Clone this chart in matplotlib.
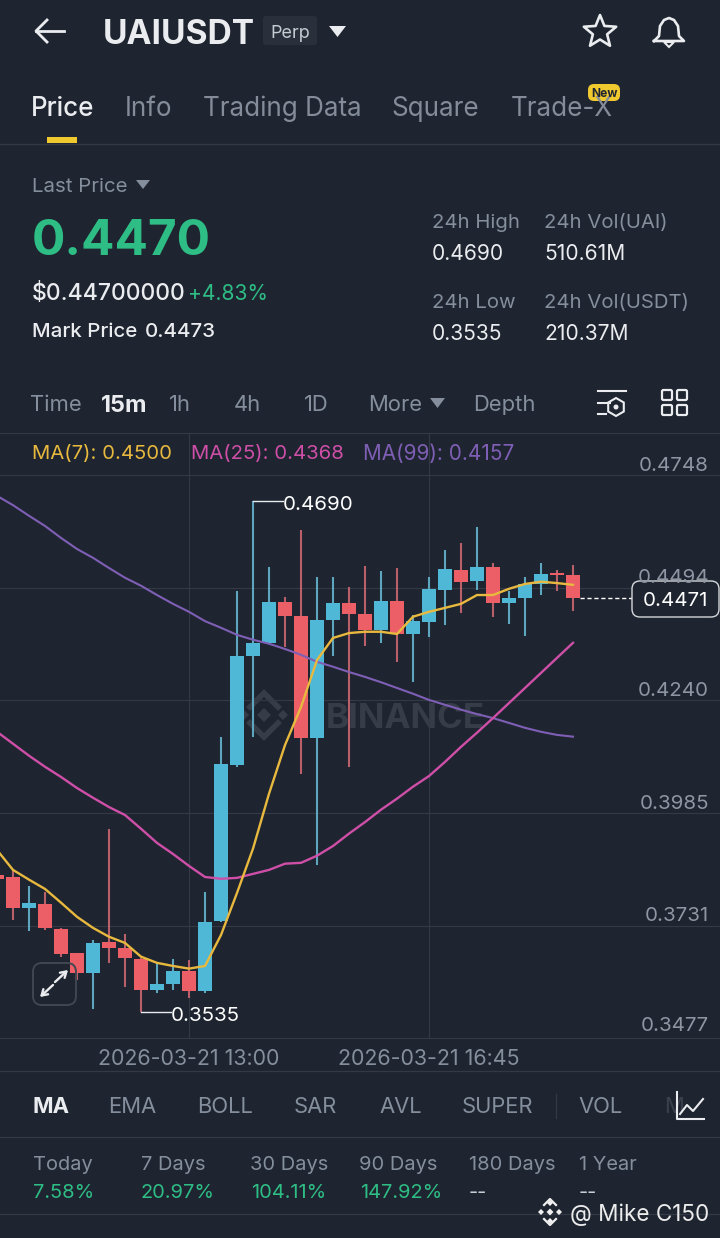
import matplotlib
matplotlib.use("Agg")
import matplotlib.pyplot as plt
from matplotlib.patches import FancyBboxPatch, Polygon, Rectangle, Circle, RegularPolygon
import numpy as np

plt.rcParams['font.family'] = ['Inter', 'DejaVu Sans']

BG = '#1e2530'; GRID = '#343a45'; GREY = '#848e9c'; WHITE = '#eaecef'; GREEN = '#2ebd85'
UP = '#4fb8d6'; DOWN = '#ec5f66'; UPW = '#5da6bd'; DOWNW = '#b9606a'
C7 = '#e8b93e'; C25 = '#cf4fa8'; C99 = '#7f5fb5'; MARK = '#373d48'

opens = [.3846,.3840,.3771,.3781,.3724,.3670,.3625,.3695,.3680,.3656,.3585,.3599,.3629,.3583,.3742,.4094,.4340,.4369,
         .4463,.4431,.4156,.4422,.4460,.4435,.4398,.4464,.4391,.4418,.4490,.4535,.4509,.4542,.4461,.4472,.4504,.4527,.4523]
closes = [.3837,.3772,.3783,.3726,.3668,.3625,.3692,.3680,.3658,.3586,.3600,.3629,.3584,.3740,.4096,.4340,.4370,.4463,
          .4431,.4156,.4422,.4460,.4434,.4398,.4464,.4390,.4419,.4491,.4536,.4508,.4541,.4460,.4471,.4504,.4526,.4523,.4471]
highs = [.3846,.3857,.3821,.3808,.3726,.3670,.3698,.3950,.3713,.3658,.3650,.3656,.3654,.3808,.4158,.4487,.4690,.4541,
         .4473,.4625,.4518,.4519,.4495,.4543,.4532,.4538,.4433,.4518,.4580,.4596,.4632,.4550,.4486,.4518,.4550,.4535,.4546]
lows = [.3837,.3744,.3720,.3722,.3661,.3609,.3543,.3647,.3593,.3535,.3580,.3585,.3568,.3580,.3740,.4089,.4158,.4369,
        .4361,.4073,.3869,.4340,.4090,.4363,.4370,.4326,.4281,.4383,.4411,.4437,.4489,.4429,.4413,.4386,.4477,.4487,.4443]
ma7 = [.3902,.3857,.3835,.3814,.3783,.3751,.3726,.3706,.3692,.3661,.3647,.3640,.3634,.3640,.3710,.3805,.3905,.4029,
       .4139,.4225,.4331,.4381,.4392,.4395,.4395,.4390,.4429,.4440,.4449,.4458,.4478,.4478,.4492,.4503,.4508,.4505,.4501]
ma25 = [.4169,.4142,.4115,.4090,.4067,.4042,.4020,.3999,.3981,.3950,.3918,.3893,.3866,.3841,.3837,.3839,.3848,.3857,
        .3871,.3873,.3889,.3911,.3939,.3965,.3993,.4018,.4045,.4069,.4101,.4135,.4167,.4200,.4234,.4268,.4302,.4336,.4370]
ma99 = [.4702,.4681,.4657,.4634,.4607,.4582,.4562,.4539,.4517,.4499,.4478,.4458,.4440,.4419,.4404,.4388,.4377,.4368,
        .4356,.4343,.4327,.4316,.4304,.4293,.4281,.4268,.4255,.4241,.4230,.4219,.4209,.4200,.4189,.4178,.4169,.4162,.4158]
price_ticks = [.4748, .4494, .4240, .3985, .3731, .3477]
time_ticks = [12, 27]
time_labels = ['2026-03-21 13:00', '2026-03-21 16:45']
last_price = .4471
tabs = [('Price', 31), ('Info', 125), ('Trading Data', 203), ('Square', 391), ('Trade-X', 511)]
ranges = [('Time', 30), ('15m', 101), ('1h', 169), ('4h', 234), ('1D', 304), ('More', 368), ('Depth', 473)]
indicators = [('MA', 32), ('EMA', 108), ('BOLL', 197), ('SAR', 294), ('AVL', 379), ('SUPER', 462), ('VOL', 578)]
periods = [('Today', 33), ('7 Days', 141), ('30 Days', 250), ('90 Days', 359), ('180 Days', 469), ('1 Year', 579)]
returns = ['7.58%', '20.97%', '104.11%', '147.92%', '--', '--']

W, H = 720, 1238
fig = plt.figure(figsize=(7.2, 12.38), dpi=100, facecolor=BG)
ui = fig.add_axes([0, 0, 1, 1], zorder=1); ui.set_xlim(0, W); ui.set_ylim(H, 0); ui.axis('off')
top, bot = 433, 1039
ax = fig.add_axes([0, 1 - bot / H, 1, (bot - top) / H], zorder=2, facecolor='none')
ov = fig.add_axes([0, 0, 1, 1], zorder=3, facecolor='none'); ov.set_xlim(0, W); ov.set_ylim(H, 0); ov.axis('off')
ymin, ymax = .3475, .4844

def px(s): return s * 0.72
def t(x, y, s, size, color=GREY, weight='normal', ha='left', a=ov, **kw):
    return a.text(x, y, s, fontsize=px(size), color=color, fontweight=weight, ha=ha, va='center_baseline', **kw)

# --- chart
n = len(opens); xs = np.arange(n) - 1
ax.set_xlim(-13 / 16, 707 / 16); ax.set_ylim(ymin, ymax)
for s in ax.spines.values(): s.set_visible(False)
ax.set_yticks(price_ticks); ax.set_yticklabels([])
ax.set_xticks([k - 1 for k in time_ticks]); ax.set_xticklabels(time_labels, fontsize=px(21.4), color=GREY)
ax.tick_params(length=0, pad=7)
ax.grid(True, color=GRID, lw=0.8); ax.set_axisbelow(True)
for i in range(n):
    up = closes[i] >= opens[i]
    ax.vlines(xs[i], lows[i], highs[i], color=UPW if up else DOWNW, lw=1.5, zorder=2)
    ax.bar(xs[i], abs(closes[i] - opens[i]), bottom=min(opens[i], closes[i]), width=.875, color=UP if up else DOWN, zorder=3)
ax.plot(xs, ma99, color=C99, lw=1.5, zorder=5)
ax.plot(xs, ma25, color=C25, lw=1.7, zorder=5)
ax.plot(xs, ma7, color=C7, lw=1.7, zorder=6)
ihi = int(np.argmax(highs)); ilo = int(np.argmin(lows))
for idx, val in [(ihi, highs[ihi]), (ilo, lows[ilo])]:
    ax.plot([xs[idx], xs[idx] + 1.85], [val] * 2, color=WHITE, lw=1, zorder=6)
    ax.annotate(f'{val:.4f}', xy=(xs[idx] + 1.85, val), xytext=(0, -1), textcoords='offset points',
                color='white', fontsize=px(20.5), va='center_baseline', zorder=7)
ax.plot([xs[-1] + .45, 38.7], [last_price] * 2, color='white', lw=1, dashes=(3, 2), zorder=6)

# --- price labels
y_of = lambda p: top + (ymax - p) / (ymax - ymin) * (bot - top)
for p in price_ticks:
    t(709, min(y_of(p) - 11.5, 1024), f'{p:.4f}', 20.5, ha='right', color='#8f96a3')
ov.add_patch(FancyBboxPatch((635, 584), 81, 30, boxstyle='round,pad=3,rounding_size=8', fc=BG, ec='#d5d8dc', lw=1))
t(675, 599, f'{last_price:.4f}', 20.5, 'white', ha='center')

# watermark
t(326, 715, 'BINANCE', 35, MARK, 'bold', a=ui)
ui.add_patch(RegularPolygon((264, 715), 4, radius=7, orientation=0, fc=MARK, ec='none'))
ui.add_patch(RegularPolygon((244, 715), 4, radius=5, orientation=0, fc=MARK, ec='none'))
ui.add_patch(RegularPolygon((283, 715), 4, radius=5, orientation=0, fc=MARK, ec='none'))
ui.plot([250, 264, 278], [707, 693, 707], color=MARK, lw=4, solid_joinstyle='miter')
ui.plot([250, 264, 278], [723, 737, 723], color=MARK, lw=4, solid_joinstyle='miter')

# --- header
ov.plot([36, 64], [31, 31], color=WHITE, lw=2)
ov.plot([47, 36, 47], [20, 31, 42], color=WHITE, lw=2)
t(103, 31, 'UAIUSDT', 33.5, WHITE, 'bold')
ui.add_patch(FancyBboxPatch((265, 18), 50, 25, boxstyle='round,pad=2,rounding_size=3', fc='#2a303b', ec='none'))
t(290, 31, 'Perp', 18, '#c7ccd3', ha='center')
ov.add_patch(Polygon([[329, 26], [346, 26], [337.5, 37]], fc=WHITE))
ang = np.deg2rad(np.arange(0, 360, 36) - 90); rad = np.where(np.arange(10) % 2 == 0, 17, 7.5)
ov.add_patch(Polygon(np.c_[600 + rad * np.cos(ang), 32 + rad * np.sin(ang)], fc='none', ec=WHITE, lw=1.9, joinstyle='round'))
bx = np.array([654, 659, 660, 664, 669, 674, 678, 679, 684, 654]); by = np.array([41, 36, 26, 20, 18, 20, 26, 36, 41, 41])
ov.plot(bx, by, color=WHITE, lw=1.9, solid_joinstyle='round')
ov.add_patch(Polygon([[664, 42], [674, 42], [669, 47]], fc='none', ec=WHITE, lw=1.5))

# --- tabs
for i, (s, x) in enumerate(tabs):
    t(x, 106, s, 26, WHITE if i == 0 else '#848c99', 'medium' if i == 0 else 'normal')
ui.add_patch(Rectangle((47, 137), 30, 6, fc='#f0c92f'))
ui.plot([0, W], [143.5, 143.5], color=GRID, lw=1)
ov.add_patch(FancyBboxPatch((592, 88), 24, 9, boxstyle='round,pad=4,rounding_size=6', fc='#f0c92f', ec='none'))
t(604, 92.5, 'New', 12, BG, 'bold', ha='center')

# --- quote block
t(32, 185, 'Last Price', 20.5)
ov.add_patch(Polygon([[136, 180], [150, 180], [143, 189]], fc=GREY))
t(32, 237, '0.4470', 49.5, GREEN, 'bold')
t(32, 292, '$0.44700000', 23, WHITE, 'medium')
t(188, 292, '+4.83%', 21, GREEN)
t(32, 330, 'Mark Price', 20.5, WHITE, 'medium')
t(145, 330, '0.4473', 20.5, WHITE, 'medium')
for x, s1, s2, y in [(432, '24h High', '0.4690', 221), (544, '24h Vol(UAI)', '510.61M', 221),
                     (432, '24h Low', '0.3535', 301), (544, '24h Vol(USDT)', '210.37M', 301)]:
    t(x, y, s1, 20.3); t(x, y + 31, s2, 21, WHITE)

# --- ranges
for s, x in ranges:
    t(x, 403, s, 23.5 if s == '15m' else 22, WHITE if s == '15m' else GREY, 'bold' if s == '15m' else 'normal')
ov.add_patch(Polygon([[430, 398], [445, 398], [437.5, 408]], fc=GREY))
ov.plot([598, 626], [391, 391], color=WHITE, lw=1.5)
ov.plot([598, 610], [403, 403], color=WHITE, lw=1.5); ov.plot([598, 606], [414, 414], color=WHITE, lw=1.5)
ov.add_patch(RegularPolygon((616, 407), 6, radius=9, fc='none', ec=WHITE, lw=1.5))
ov.add_patch(Circle((616, 407), 2.5, fc=WHITE, ec='none'))
for (rx, ry) in [(662, 390), (677, 390), (662, 405), (677, 405)]:
    ov.add_patch(FancyBboxPatch((rx, ry), 10, 10, boxstyle='round,pad=0,rounding_size=1.5', fc='none', ec=WHITE, lw=1.6))
ui.plot([0, W], [433, 433], color=GRID, lw=.8)

# --- MA legend
t(32, 452, f'MA(7): {ma7[-1] - .0001:.4f}', 20.3, C7)
t(191, 452, 'MA(25): 0.4368', 20.3, C25)
t(363, 452, 'MA(99): 0.4157', 20.7, C99)

# --- expand button
ov.add_patch(FancyBboxPatch((33, 963), 43, 42, boxstyle='round,pad=0,rounding_size=9', fc='none', ec='#414752', lw=1.4))
for a0, a1 in [((55, 982), (68, 970)), ((53, 985), (40, 997))]:
    ov.annotate('', xy=a1, xytext=a0, arrowprops=dict(arrowstyle='->,head_width=.25,head_length=.4', color=WHITE, lw=1.7, shrinkA=0, shrinkB=0))

# --- bottom rows
for yy in (1071, 1137, 1214):
    ui.plot([0, W], [yy, yy], color=GRID, lw=.9)
for s, x in indicators:
    t(x, 1105, s, 22, WHITE if s == 'MA' else GREY, 'bold' if s == 'MA' else 'normal')
ui.plot([556, 556], [1094, 1118], color=GRID, lw=.9)
t(664, 1105, 'M', 22, '#3b414c')
ov.add_patch(Rectangle((664, 1085), 40, 36, fc=BG, ec='none', zorder=1.5, alpha=0.55))
ov.plot([677, 677, 704], [1092, 1119, 1119], color=WHITE, lw=1.5, zorder=3)
ov.plot([680, 687, 693, 703], [1114, 1105, 1111, 1099], color=WHITE, lw=1.5, zorder=3)
for (s, x), r in zip(periods, returns):
    t(x, 1163, s, 20)
    t(x + (1 if r.startswith('1') else 0), 1191, r, 20, GREEN if r != '--' else '#c9ccd2')

# --- attribution
for (cx, cy, r) in [(550, 1212, 3.5), (541, 1212, 3), (559, 1212, 3), (550, 1203, 3), (550, 1221, 3)]:
    ov.add_patch(RegularPolygon((cx, cy), 4, radius=r, orientation=0, fc='#f0f0f0', ec='none'))
ov.plot([544, 550, 556], [1205, 1199, 1205], color='#f0f0f0', lw=1.6)
ov.plot([544, 550, 556], [1219, 1225, 1219], color='#f0f0f0', lw=1.6)
t(570, 1212, '@ Mike C150', 22.5, '#ececec')

fig.savefig('out.png', dpi=100, facecolor=BG)
